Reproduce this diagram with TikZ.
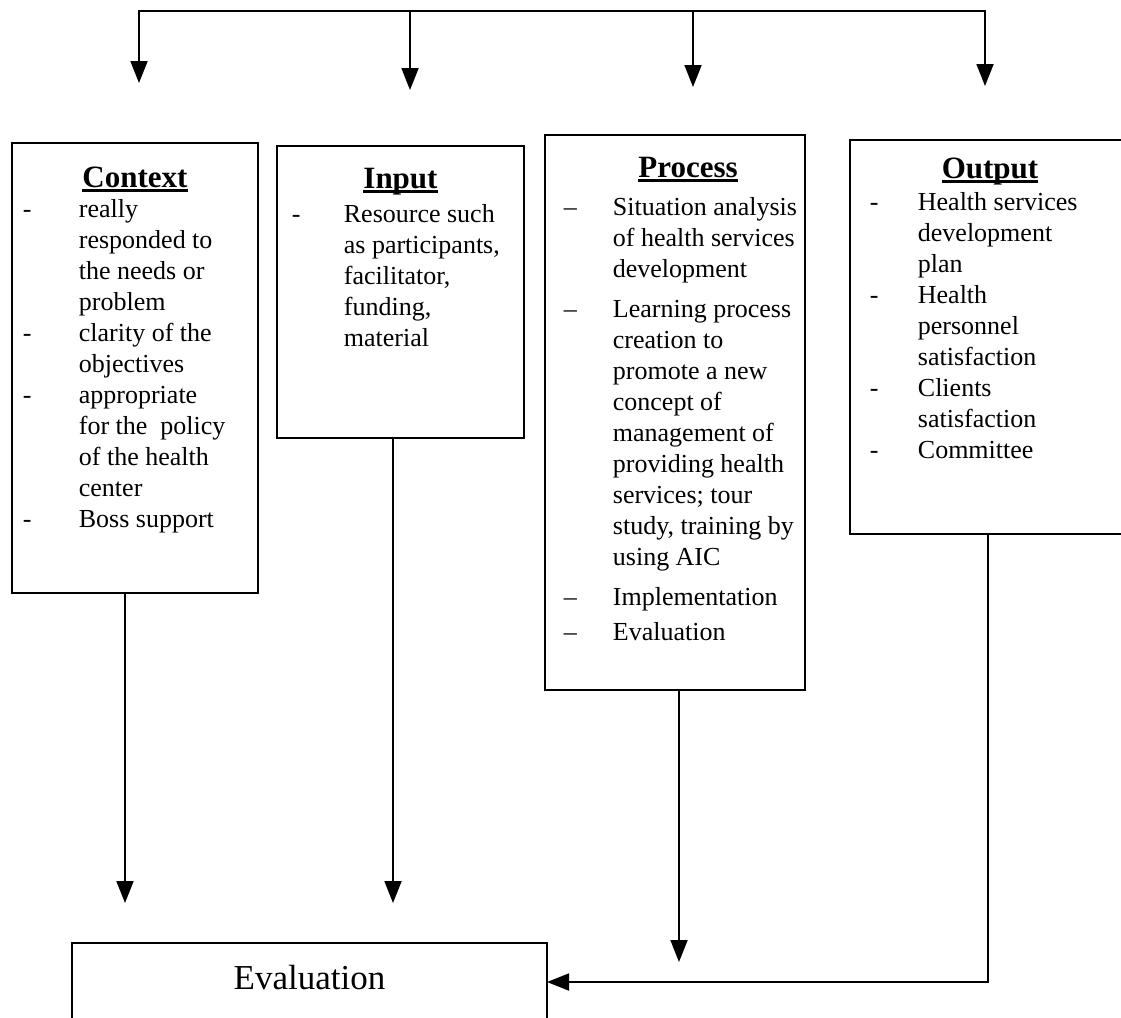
\documentclass[tikz,border=0pt]{standalone}
\usepackage{fontspec}
\setmainfont{Liberation Serif}
\usetikzlibrary{positioning, arrows.meta}
\newcommand{\ulhead}[1]{\setbox0=\hbox{#1}\rlap{\rule[-4.5pt]{\wd0}{2.2pt}}\box0}
\tikzset{
  box/.style={draw, rectangle, anchor=north west, inner sep=0pt, outer sep=0pt},
  head/.style={anchor=base, font=\fontsize{31}{36}\selectfont\bfseries},
  items/.style={inner sep=0pt, font=\fontsize{26}{31}\selectfont},
  arr/.style={-{Triangle[length=22pt,width=17pt]}}
}
\begin{document}
\begin{tikzpicture}[x=1pt, y=-1pt, line width=1.8pt]
\useasboundingbox (0,0) rectangle (1121,1017);

\node[box, minimum width=246pt, minimum height=450pt] (context) at (12,143) {};
\node[box, minimum width=247pt, minimum height=292pt] (input) at (277,146) {};
\node[box, minimum width=260pt, minimum height=555pt] (process) at (545,135) {};
\node[box, minimum width=290pt, minimum height=394pt] (output) at (850,140) {};
\node[box, minimum width=475pt, minimum height=78pt, text height=24pt, text depth=10pt,
  font=\fontsize{35}{40}\selectfont] (evaluation) at (72,943) {Evaluation};

\node[head] (contextH) at ([yshift=-44pt]context.north) {\ulhead{Context}};
\node[head] (inputH) at ([yshift=-42pt]input.north) {\ulhead{Input}};
\node[head] (processH) at ([xshift=13pt,yshift=-42pt]process.north) {\ulhead{Process}};
\node[head] (outputH) at ([xshift=-5pt,yshift=-38pt]output.north) {\ulhead{Output}};

\node[items, below right=52.3pt and 10pt of context.north west] (contextL) {\begin{tabular}{@{}p{56pt}@{}l@{}}
-&really\\
&responded to\\
&the needs or\\
&problem\\
-&clarity of the\\
&objectives\\
-&appropriate\\
&for the\ \ policy\\
&of the health\\
&center\\
-&Boss support
\end{tabular}};
\node[items, below right=54.3pt and 14pt of input.north west] (inputL) {\begin{tabular}{@{}p{52pt}@{}l@{}}
-&Resource such\\
&as participants,\\
&facilitator,\\
&funding,\\
&material
\end{tabular}};
\node[items, below right=58pt and 18pt of process.north west] (processL) {\begin{tabular}{@{}p{49pt}@{}l@{}}
--&Situation analysis\\
&of health services\\
&development\\[9pt]
--&Learning process\\
&creation to\\
&promote a new\\
&concept of\\
&management of\\
&providing health\\
&services; tour\\
&study, training by\\
&using AIC\\[9pt]
--&Implementation\\[4pt]
--&Evaluation
\end{tabular}};
\node[items, below right=48.3pt and 19pt of output.north west] (outputL) {\begin{tabular}{@{}p{48pt}@{}l@{}}
-&Health services\\
&development\\
&plan\\
-&Health\\
&personnel\\
&satisfaction\\
-&Clients\\
&satisfaction\\
-&Committee
\end{tabular}};

\coordinate (b1) at (139,11);
\coordinate (b2) at (410,11);
\coordinate (b3) at (693,11);
\coordinate (b4) at (985,11);
\coordinate (t1) at (139,83);
\coordinate (t2) at (410,90);
\coordinate (t3) at (693,87);
\coordinate (t4) at (985,86);
\draw[line cap=rect] (b1) -- (b4);
\foreach \i in {1,...,4}
  \draw[arr] (b\i) -- (t\i);

\coordinate (e1) at (125,903);
\coordinate (e2) at (393,903);
\coordinate (e3) at (679,962);
\coordinate (oX) at (988,0);
\draw[arr] (e1 |- context.south) -- (e1);
\draw[arr] (e2 |- input.south) -- (e2);
\draw[arr] (e3 |- process.south) -- (e3);
\draw[arr] (oX |- output.south) |- (evaluation.east);
\end{tikzpicture}
\end{document}
